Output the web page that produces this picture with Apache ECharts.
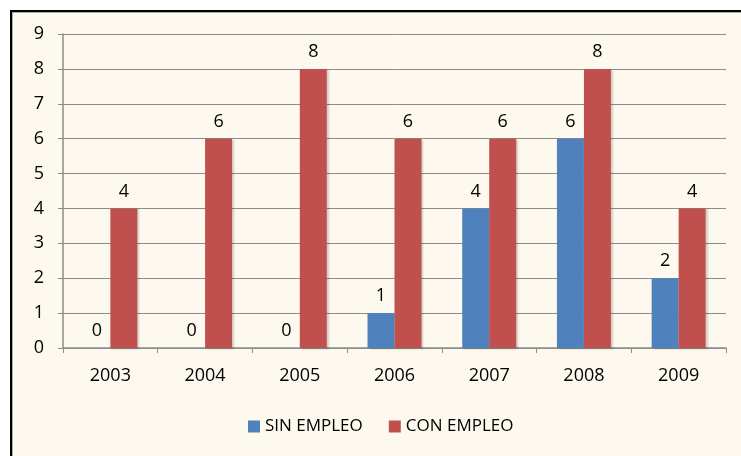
<!DOCTYPE html>
<html>
<head>
<meta charset="utf-8">
<script src="https://cdn.jsdelivr.net/npm/echarts@6/dist/echarts.min.js"></script>
<style>
  html, body { margin: 0; padding: 0; background: #fff; overflow: hidden; }
  .frame {
    position: absolute; left: 10px; top: 10px; width: 780px; height: 500px;
    border: 2px solid #000; background: #fef9ef;
    box-shadow: inset 1px 1px 0 #aaa;
  }
  #chart { position: absolute; left: 0; top: 0; width: 741px; height: 456px; }
</style>
</head>
<body>
<div class="frame"></div>
<div id="chart"></div>
<script>
// datos
const years = ['2003', '2004', '2005', '2006', '2007', '2008', '2009']
const sinEmpleo = [0, 0, 0, 1, 4, 6, 2]
const conEmpleo = [4, 6, 8, 6, 6, 8, 4]

const font = 'Open Sans'
const axisGray = '#8c8c8c'
const txt = '#000'

var myChart = echarts.init(document.getElementById('chart'))

const barStyle = color => ({
  color: color,
  shadowColor: 'rgba(0,0,0,0.18)',
  shadowBlur: 2,
  shadowOffsetX: 2,
  shadowOffsetY: 1
})

let option = {
  backgroundColor: 'transparent',
  animation: false,
  textStyle: { fontFamily: font },
  grid: { left: 63, right: 15, top: 34, bottom: 108 },
  legend: {
    left: 248,
    top: 418,
    padding: 0,
    itemWidth: 12,
    itemHeight: 12,
    itemGap: 26,
    icon: 'rect',
    textStyle: { color: txt, fontSize: 17, fontFamily: font },
    data: ['SIN EMPLEO', 'CON EMPLEO']
  },
  xAxis: {
    type: 'category',
    data: years,
    axisLine: { show: true, lineStyle: { color: axisGray, width: 1.5 } },
    axisTick: { show: true, length: 5, lineStyle: { color: axisGray } },
    axisLabel: { color: txt, fontSize: 18, fontFamily: font, margin: 19 }
  },
  yAxis: {
    type: 'value',
    min: 0,
    max: 9,
    interval: 1,
    axisLine: { show: true, lineStyle: { color: axisGray, width: 1.5 } },
    axisTick: { show: true, length: 5, lineStyle: { color: axisGray } },
    axisLabel: { color: txt, fontSize: 18, fontFamily: font, margin: 19 },
    splitLine: { show: true, lineStyle: { color: axisGray, width: 1 } }
  },
  series: [
    {
      name: 'SIN EMPLEO',
      type: 'bar',
      data: sinEmpleo,
      barGap: '0%',
      barCategoryGap: '43%',
      itemStyle: barStyle('#4f81bd'),
      label: { show: true, position: 'top', distance: 8, color: txt, fontSize: 18, fontFamily: font }
    },
    {
      name: 'CON EMPLEO',
      type: 'bar',
      data: conEmpleo,
      itemStyle: barStyle('#c0504d'),
      label: { show: true, position: 'top', distance: 8, color: txt, fontSize: 18, fontFamily: font }
    }
  ]
}

myChart.setOption(option)
</script>
</body>
</html>
